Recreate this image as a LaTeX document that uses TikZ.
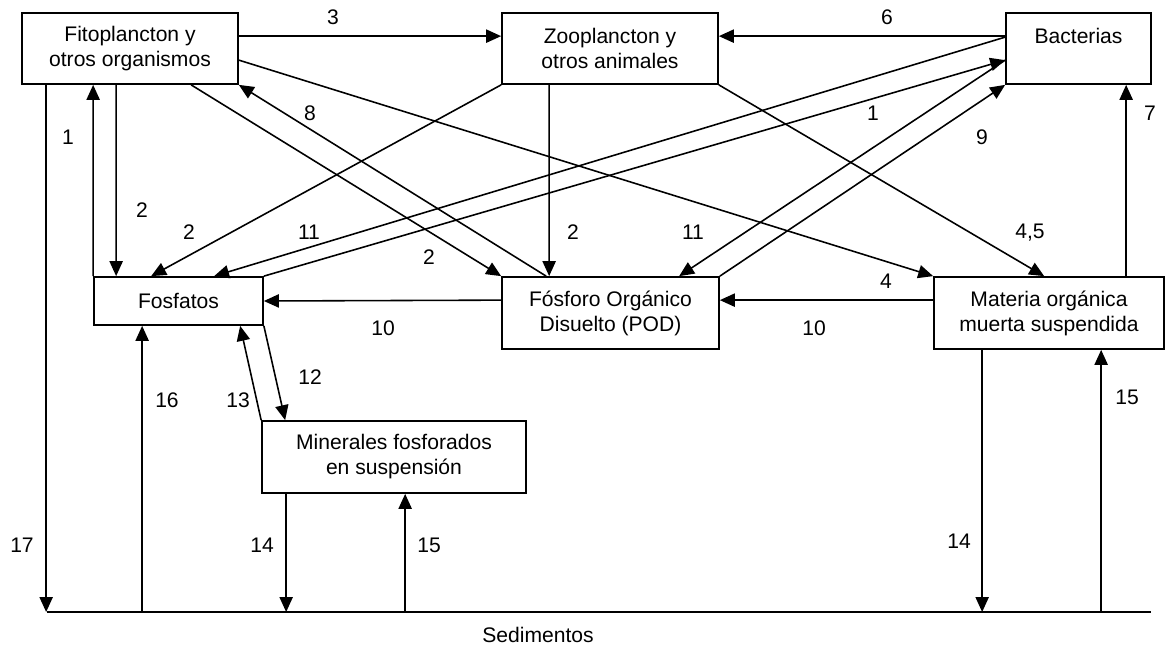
\documentclass[tikz,border=0pt]{standalone}
\usepackage{fontspec}
\setmainfont{Liberation Sans}
\usetikzlibrary{calc,arrows.meta}

\begin{document}
\begin{tikzpicture}[x=0.02cm, y=-0.02cm,
		box/.style={draw, line width=1pt, rectangle, inner sep=0pt, align=center, font=\fontsize{12}{14.2}\selectfont},
		flow/.style={line width=0.9pt, -{Triangle[length=8.5pt, width=7.5pt]}},
		num/.style={inner sep=0pt, font=\fontsize{12}{14.2}\selectfont}]
			\useasboundingbox (0,0) rectangle (1166,646);
			\node[box, minimum width=4.32cm, minimum height=1.42cm] (fito) at (130,48.5) {Fitoplancton y\\otros organismos};
			\node[box, minimum width=4.32cm, minimum height=1.42cm] (zoo) at (610,48.5) {Zooplancton y\\otros animales};
			\node[box, minimum width=2.90cm, minimum height=1.42cm] (bact) at (1078.5,48.5) {Bacterias\\\rule{0pt}{0pt}};
			\node[box, minimum width=3.38cm, minimum height=0.96cm] (fosf) at (178.5,301) {Fosfatos};
			\node[box, minimum width=4.34cm, minimum height=1.44cm] (pod) at (610.5,313) {Fósforo Orgánico\\Disuelto (POD)};
			\node[box, minimum width=4.60cm, minimum height=1.44cm] (mat) at (1049,313) {Materia orgánica\\muerta suspendida};
			\node[box, minimum width=5.28cm, minimum height=1.44cm] (mins) at (394,457) {Minerales fosforados\\en suspensión};
			\coordinate (sedl) at (47,612);
			\coordinate (sedr) at (1151,612);
			\draw[line width=1.1pt] (sedl) -- (sedr);
			\node[num] (sed) at (538,635) {Sedimentos};
			\coordinate (f17) at ($(fito.south west)+(25,0)$);
			\coordinate (f16) at ($(fosf.south west)+(49,0)$);
			\coordinate (m14) at ($(mins.south west)+(25,0)$);
			\coordinate (m15) at ($(mins.south west)+(144,0)$);
			\coordinate (o14) at ($(mat.south west)+(49,0)$);
			\coordinate (o15) at ($(mat.south west)+(168,0)$);
			\coordinate (o7) at ($(mat.north west)+(193,0)$);
			\draw[flow] ($(fito.north east)+(0,24)$) -- ($(zoo.north west)+(0,24)$);
			\draw[flow] ($(bact.north west)+(0,24)$) -- ($(zoo.north east)+(0,24)$);
			\draw[flow] ($(fito.north east)+(0,48)$) -- (mat.north west);
			\draw[flow] (fosf.north west) -- ($(fito.south west)+(72,0)$);
			\draw[flow] ($(fito.south west)+(95,0)$) -- ($(fosf.north west)+(23,0)$);
			\draw[flow] (f17) -- (f17 |- sedl);
			\draw[flow] ($(fito.south west)+(170,0)$) -- (pod.north west);
			\draw[flow] ($(pod.north west)+(45,0)$) -- (fito.south east);
			\draw[flow] (zoo.south west) -- ($(fosf.north west)+(58,0)$);
			\draw[flow] ($(zoo.south west)+(48,0)$) -- ($(pod.north west)+(48,0)$);
			\draw[flow] (zoo.south east) -- ($(mat.north west)+(111,0)$);
			\draw[flow] ($(bact.north west)+(0,25)$) -- ($(fosf.north west)+(121,0)$);
			\draw[flow] (fosf.north east) -- ($(bact.north west)+(0,48)$);
			\draw[flow] ($(bact.north west)+(0,48)$) -- ($(pod.north west)+(178,0)$);
			\draw[flow] (pod.north east) -- (bact.south west);
			\draw[flow] (o7) -- (o7 |- bact.south);
			\draw[flow] ($(mat.north west)+(0,24)$) -- ($(pod.north east)+(0,24)$);
			\draw[flow] ($(pod.north west)+(0,24)$) -- (fosf.east);
			\draw[flow] (fosf.south east) -- ($(mins.north west)+(24,0)$);
			\draw[flow] (mins.north west) -- ($(fosf.south west)+(147,0)$);
			\draw[flow] (f16 |- sedl) -- (f16);
			\draw[flow] (m14) -- (m14 |- sedl);
			\draw[flow] (m15 |- sedl) -- (m15);
			\draw[flow] (o14) -- (o14 |- sedl);
			\draw[flow] (o15 |- sedl) -- (o15);
			\node[num] (n3) at (333,17) {3};
			\node[num] (n6) at (887,17) {6};
			\node[num] (n1a) at (68,137) {1};
			\node[num] (n2a) at (142,210) {2};
			\node[num] (n8) at (310,113) {8};
			\node[num] (n2b) at (189,232) {2};
			\node[num] (n11a) at (309,232) {11};
			\node[num] (n2c) at (429,257) {2};
			\node[num] (n2d) at (573,232) {2};
			\node[num] (n11b) at (693,232) {11};
			\node[num] (n1b) at (873,113) {1};
			\node[num] (n9) at (982,137) {9};
			\node[num] (n7) at (1150,113) {7};
			\node[num] (n45) at (1030,233) {4,5};
			\node[num] (n4) at (886,281) {4};
			\node[num] (n10a) at (383,328) {10};
			\node[num] (n10b) at (814,328) {10};
			\node[num] (n12) at (310,377) {12};
			\node[num] (n13) at (238,400) {13};
			\node[num] (n16) at (167,400) {16};
			\node[num] (n17) at (22,545) {17};
			\node[num] (n14a) at (262,545) {14};
			\node[num] (n15a) at (429,545) {15};
			\node[num] (n14b) at (959,541) {14};
			\node[num] (n15b) at (1127,397) {15};
		\end{tikzpicture}
\end{document}
